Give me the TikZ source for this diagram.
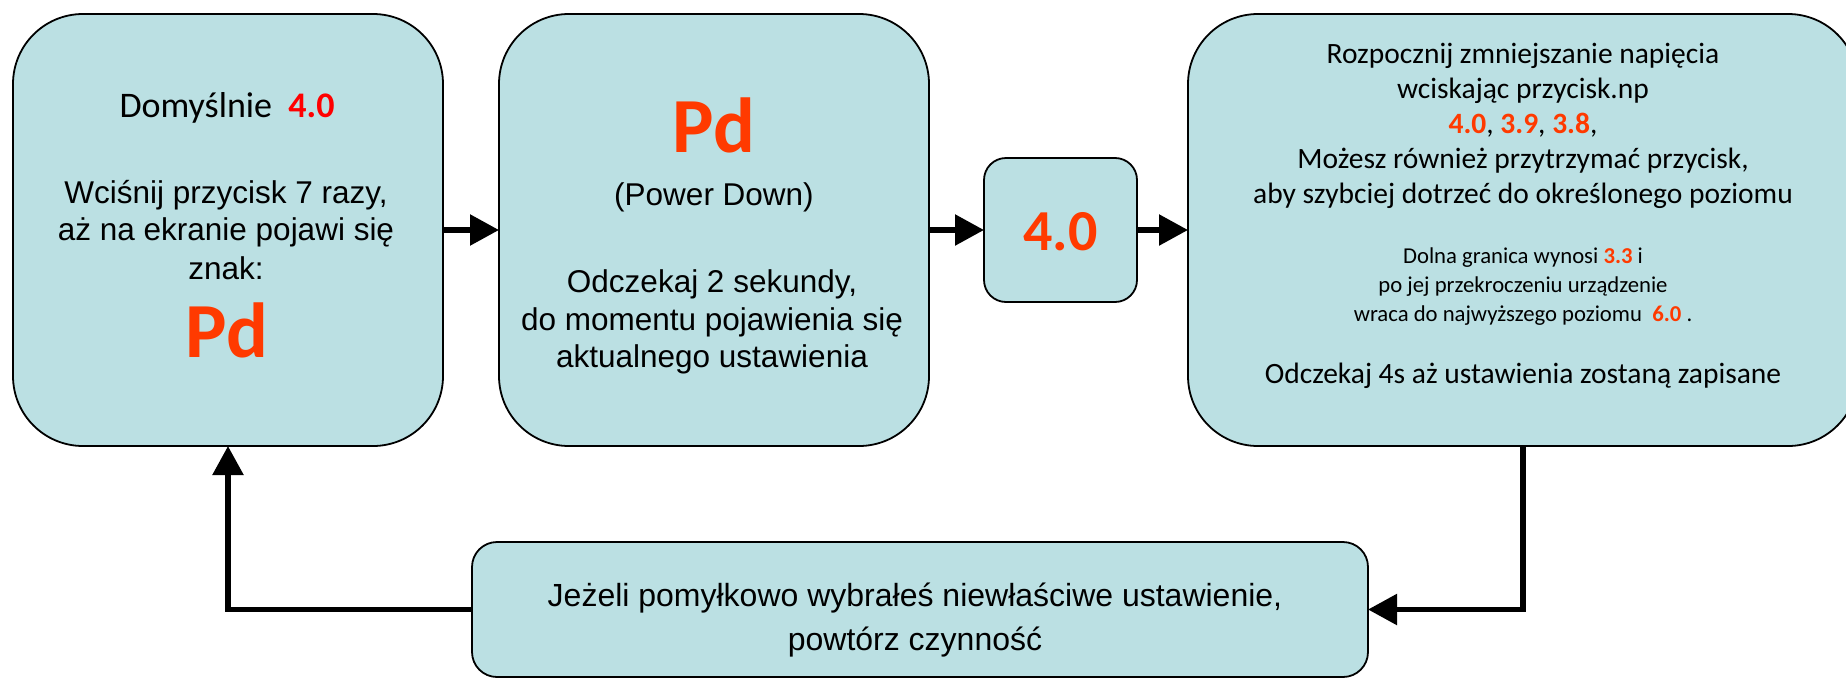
\documentclass[tikz,border=0pt]{standalone}
\usepackage{fontspec}
\setmainfont{Liberation Sans}
\newfontfamily\calib{Carlito}
\usetikzlibrary{arrows.meta}
\definecolor{boxfill}{RGB}{187,224,227}
\definecolor{redA}{RGB}{255,0,0}
\definecolor{redB}{RGB}{255,58,0}
\tikzset{
  bigbox/.style={draw=black, line width=1.8pt, fill=boxfill, rounded corners=70pt, inner sep=0pt, outer sep=0pt},
  conn/.style={line width=5.5pt, line join=miter, -{Triangle[length=29pt,width=30pt]}},
  ln/.style={anchor=base, inner sep=0pt, font=\fontsize{31.5}{38}\selectfont},
  lnc/.style={anchor=base, inner sep=0pt, font=\calib\fontsize{29.5}{35}\selectfont},
  lns/.style={anchor=base, inner sep=0pt, font=\calib\fontsize{22.7}{28}\selectfont},
  bigred/.style={anchor=base, inner sep=0pt, text=redB, font=\calib\bfseries\fontsize{78}{90}\selectfont},
}
\newcommand{\rn}[1]{{\calib\bfseries\color{redB}#1}}
\begin{document}
\begin{tikzpicture}[x=1pt,y=-1pt]
\useasboundingbox (0,0) rectangle (1846,680);
\clip (0,0) rectangle (1846,680);
% boxes
\node[bigbox, minimum width=430pt, minimum height=432pt] (b1) at (228,230) {};
\node[bigbox, minimum width=430pt, minimum height=432pt] (b2) at (714,230) {};
\node[bigbox, rounded corners=22pt, minimum width=153pt, minimum height=144pt] (b3) at (1060.5,230) {};
\node[bigbox, minimum width=670pt, minimum height=432pt] (b4) at (1523,230) {};
\node[bigbox, rounded corners=25pt, minimum width=896pt, minimum height=135pt] (b5) at (920,609.5) {};
% box 1 text
\node[ln, font=\calib\fontsize{36}{42}\selectfont] (t1a) at (227,117) {Domyślnie\ \ {\bfseries\color{redA}4.0}};
\node[ln] (t1b) at (226,203) {Wciśnij przycisk 7 razy,};
\node[ln] (t1c) at (226,240) {aż na ekranie pojawi się};
\node[ln] (t1d) at (226,279) {znak:};
\node[bigred] (t1e) at (227,357) {Pd};
% box 2 text
\node[bigred] (t2a) at (714,152) {Pd};
\node[ln] (t2b) at (714,205) {(Power Down)};
\node[ln] (t2c) at (712,292) {Odczekaj 2 sekundy,};
\node[ln] (t2d) at (712,330) {do momentu pojawienia się};
\node[ln] (t2e) at (712,367) {aktualnego ustawienia};
% box 3 text
\node[bigred, font=\calib\bfseries\fontsize{58}{66}\selectfont] (t3a) at (1060.5,250) {4.0};
% box 4 text
\node[lnc] (t4a) at (1523,63) {Rozpocznij zmniejszanie napięcia};
\node[lnc] (t4b) at (1523,98) {wciskając przycisk.np};
\node[lnc] (t4c) at (1523,133) {\rn{4.0}, \rn{3.9}, \rn{3.8},};
\node[lnc] (t4d) at (1523,168) {Możesz również przytrzymać przycisk,};
\node[lnc] (t4e) at (1523,203) {aby szybciej dotrzeć do określonego poziomu};
\node[lns] (t4f) at (1523,263) {Dolna granica wynosi \rn{3.3} i};
\node[lns] (t4g) at (1523,292) {po jej przekroczeniu urządzenie};
\node[lns] (t4h) at (1523,321) {wraca do najwyższego poziomu\ \ \rn{6.0} .};
\node[lnc] (t4i) at (1523,383) {Odczekaj 4s aż ustawienia zostaną zapisane};
% box 5 text
\node[ln, font=\fontsize{32}{38}\selectfont] (t5a) at (915,606) {Jeżeli pomyłkowo wybrałeś niewłaściwe ustawienie,};
\node[ln, font=\fontsize{32}{38}\selectfont] (t5b) at (915,650) {powtórz czynność};
% connectors
\draw[conn] (b1.east) -- (b2.west);
\draw[conn] (b2.east) -- (b3.west);
\draw[conn] (b3.east) -- (b4.west);
\draw[conn] (b4.south) |- (b5.east);
\draw[conn] (b5.west) -| (b1.south);
\end{tikzpicture}
\end{document}
